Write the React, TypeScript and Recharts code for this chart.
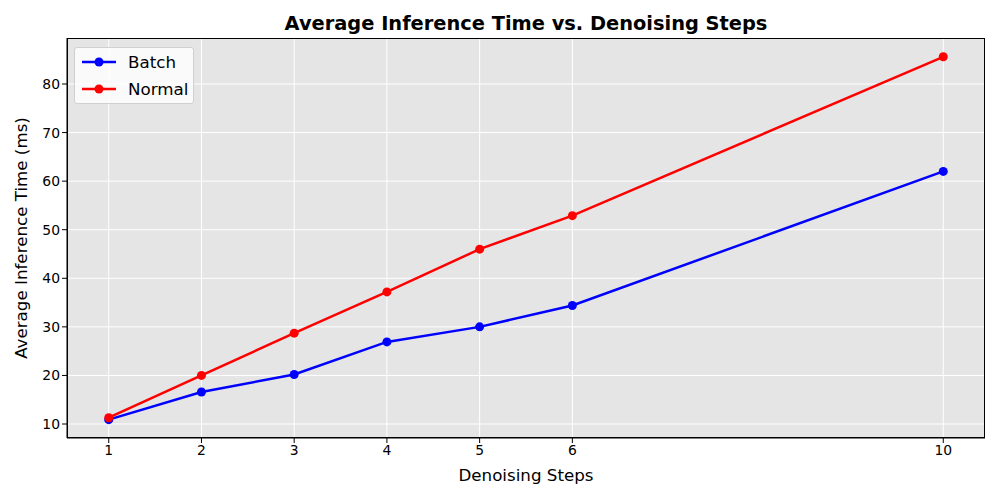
import React from 'react';
import { LineChart, Line, XAxis, YAxis, CartesianGrid, Label } from 'recharts';

const steps = [1, 2, 3, 4, 5, 6, 10];
const batchMs = [10.9, 16.6, 20.2, 26.9, 30.0, 34.4, 62.0];
const normalMs = [11.3, 20.0, 28.7, 37.2, 46.0, 52.9, 85.6];
const yTicks = [10, 20, 30, 40, 50, 60, 70, 80];

const data = steps.map((s, i) => ({ step: s, batch: batchMs[i], normal: normalMs[i] }));

const FONT = '"DejaVu Sans", sans-serif';

const series = [
  { key: 'batch', name: 'Batch', color: '#0000ff' },
  { key: 'normal', name: 'Normal', color: '#ff0000' },
];

// plot box in page pixels
const PLOT = { left: 67, top: 38, right: 985, bottom: 438 };

const LegendBox = () => (
  <div
    style={{
      position: 'absolute',
      left: 74,
      top: 47,
      width: 120,
      height: 57,
      boxSizing: 'border-box',
      background: 'rgba(255,255,255,0.8)',
      border: '1px solid #d0d0d0',
      borderRadius: 3,
      padding: '0 0 0 6px',
      fontFamily: FONT,
      fontSize: 16.7,
      color: '#000',
    }}
  >
    {series.map((s) => (
      <div key={s.key} style={{ display: 'flex', alignItems: 'center', height: 27 }}>
        <svg width={36} height={12} style={{ marginRight: 11 }}>
          <line x1={1} y1={6} x2={35} y2={6} stroke={s.color} strokeWidth={2.5} />
          <circle cx={18} cy={6} r={4.5} fill={s.color} />
        </svg>
        <span>{s.name}</span>
      </div>
    ))}
  </div>
);

export default function App() {
  return (
    <div style={{ position: 'absolute', left: 0, top: 0, width: 1000, height: 500, background: '#fff' }}>
      <div
        style={{
          position: 'absolute',
          left: PLOT.left,
          width: PLOT.right - PLOT.left,
          top: 12,
          textAlign: 'center',
          fontFamily: FONT,
          fontWeight: 'bold',
          fontSize: 19.4,
        }}
      >
        Average Inference Time vs. Denoising Steps
      </div>
      <LineChart
        width={1000}
        height={500}
        data={data}
        margin={{ top: PLOT.top, right: 1000 - PLOT.right, bottom: 32, left: 27 }}
        style={{ fontFamily: FONT }}
      >
        <CartesianGrid fill="#e5e5e5" stroke="#ffffff" strokeWidth={1} />
        <XAxis
          dataKey="step"
          type="number"
          domain={[0.55, 10.45]}
          ticks={steps}
          allowDataOverflow
          height={30}
          tickSize={5}
          tickLine={{ stroke: '#000' }}
          axisLine={{ stroke: '#000' }}
          tick={{ fill: '#000', fontSize: 13.9 }}
        >
          <Label value="Denoising Steps" position="insideBottom" offset={-13} style={{ fill: '#000', fontSize: 16.7 }} />
        </XAxis>
        <YAxis
          type="number"
          domain={[7.12, 89.47]}
          ticks={yTicks}
          allowDataOverflow
          width={40}
          tickSize={5}
          tickLine={{ stroke: '#000' }}
          axisLine={{ stroke: '#000' }}
          tick={{ fill: '#000', fontSize: 13.9 }}
        >
          <Label
            value="Average Inference Time (ms)"
            angle={-90}
            position="insideLeft"
            offset={-6}
            style={{ textAnchor: 'middle', fill: '#000', fontSize: 16.7 }}
          />
        </YAxis>
        {series.map((s) => (
          <Line
            key={s.key}
            dataKey={s.key}
            name={s.name}
            stroke={s.color}
            strokeWidth={2.5}
            dot={{ r: 4.5, fill: s.color, stroke: s.color, strokeWidth: 0 }}
            activeDot={false}
            isAnimationActive={false}
          />
        ))}
      </LineChart>
      <div
        style={{
          position: 'absolute',
          left: PLOT.left,
          top: PLOT.top,
          width: PLOT.right - PLOT.left,
          height: PLOT.bottom - PLOT.top,
          boxSizing: 'border-box',
          border: '1px solid #000',
          pointerEvents: 'none',
        }}
      />
      <LegendBox />
    </div>
  );
}
